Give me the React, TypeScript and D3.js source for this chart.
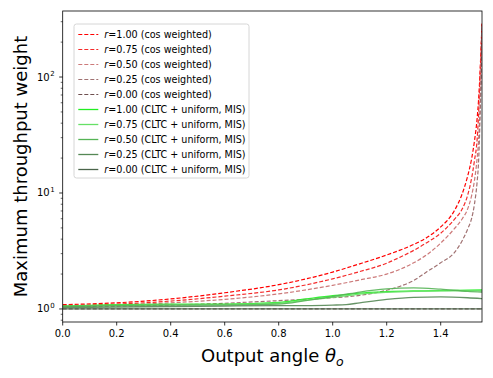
import * as d3 from 'd3'

const THETA=[0,0.2,0.4,0.6,0.8,1.0,1.1,1.2,1.25,1.3,1.35,1.4,1.45,1.48,1.5,1.515,1.525,1.535,1.54,1.545,1.55,1.553]
const COS_100=[1.09,1.13,1.22,1.38,1.62,2.08,2.45,2.92,3.22,3.6,4.15,5.1,7.0,9.9,14,20,28,44,62,100,190,290]
const COS_075=[1.07,1.10,1.17,1.29,1.46,1.82,2.1,2.48,2.8,3.2,3.75,4.5,5.9,7.3,9.6,13.6,19,29,46,92,180,285]
const COS_050=[1.06,1.08,1.13,1.21,1.35,1.6,1.78,2.0,2.2,2.5,2.95,3.7,4.9,6.0,7.3,9.6,12.8,20,28,50,130,280]
const COS_025=[1.05,1.06,1.08,1.12,1.18,1.25,1.31,1.45,1.57,1.76,2.1,2.5,3.05,3.9,4.9,6.1,8.0,12.5,18,38,110,275]
const COS_000=[1,1,1,1,1,1,1,1,1,1,1,1,1,1,1,1,1,1,1,1,1,1]

const G_THETA=[0,0.2,0.4,0.6,0.8,0.9,1.0,1.05,1.1,1.2,1.3,1.4,1.5,1.553]
const G_100=[1.06,1.09,1.10,1.10,1.14,1.22,1.30,1.33,1.37,1.41,1.43,1.44,1.45,1.46]
const G_075=[1.05,1.08,1.09,1.09,1.12,1.19,1.26,1.30,1.34,1.39,1.42,1.43,1.44,1.44]
const G_050=[1.05,1.07,1.08,1.08,1.10,1.18,1.28,1.34,1.40,1.49,1.52,1.48,1.42,1.40]
const G_025=[1.03,1.04,1.05,1.06,1.07,1.07,1.08,1.09,1.13,1.21,1.26,1.27,1.25,1.23]
const G_000=[1,1,1,1,1,1,1,1,1,1,1,1,1,1]

const R_LABELS=['1.00','0.75','0.50','0.25','0.00']
const X_TICKS=[0,0.2,0.4,0.6,0.8,1.0,1.2,1.4]
const Y_MAJOR=[1,10,100]

const series=[
  {r:R_LABELS[0],kind:'cos weighted',x:THETA,y:COS_100,color:'#ff0000',dash:true},
  {r:R_LABELS[1],kind:'cos weighted',x:THETA,y:COS_075,color:'#f52a2a',dash:true},
  {r:R_LABELS[2],kind:'cos weighted',x:THETA,y:COS_050,color:'#cc7a7a',dash:true},
  {r:R_LABELS[3],kind:'cos weighted',x:THETA,y:COS_025,color:'#a07272',dash:true},
  {r:R_LABELS[4],kind:'cos weighted',x:THETA,y:COS_000,color:'#6e5050',dash:true},
  {r:R_LABELS[0],kind:'CLTC + uniform, MIS',x:G_THETA,y:G_100,color:'#22ee22',dash:false},
  {r:R_LABELS[1],kind:'CLTC + uniform, MIS',x:G_THETA,y:G_075,color:'#66e066',dash:false},
  {r:R_LABELS[2],kind:'CLTC + uniform, MIS',x:G_THETA,y:G_050,color:'#55b455',dash:false},
  {r:R_LABELS[3],kind:'CLTC + uniform, MIS',x:G_THETA,y:G_025,color:'#558855',dash:false},
  {r:R_LABELS[4],kind:'CLTC + uniform, MIS',x:G_THETA,y:G_000,color:'#4a654a',dash:false},
]

export default function App() {
  const W=493, H=378
  const m={left:62.7,right:482,top:11,bottom:322}
  const x=d3.scaleLinear().domain([0,1.553]).range([m.left,m.right])
  const y=d3.scaleLog().domain([0.772,371]).range([m.bottom,m.top])
  const font='DejaVu Sans'
  const minor:number[]=[]
  ;[0.1,1,10,100].forEach(d=>{for(let k=2;k<10;k++){const v=d*k; if(v>0.772&&v<371) minor.push(v)}})
  const line=(s:any)=>d3.line<number>().x((_,i)=>x(s.x[i])).y(d=>y(d)).curve(d3.curveMonotoneX)(s.y)
  const lg={x:74,y:24,w:175,h:154}
  return (
    <svg width={W} height={H} style={{position:'absolute',left:0,top:0,background:'#fff'}} fontFamily={font}>
      <defs><clipPath id="clip"><rect x={m.left} y={m.top} width={m.right-m.left} height={m.bottom-m.top}/></clipPath></defs>
      <g clipPath="url(#clip)">
        {series.map((s,i)=>(
          <path key={i} d={line(s)||''} fill="none" stroke={s.color} strokeWidth={s.dash?1.2:1.3}
            strokeDasharray={s.dash?'4,2':undefined} strokeOpacity={s.dash?1:0.9}/>
        ))}
      </g>
      <rect x={m.left} y={m.top} width={m.right-m.left} height={m.bottom-m.top} fill="none" stroke="#000" strokeWidth={0.8}/>
      {X_TICKS.map(t=>(
        <g key={t} transform={`translate(${x(t)},${m.bottom})`}>
          <line y2={3.5} stroke="#000" strokeWidth={0.8}/>
          <text y={15} textAnchor="middle" fontSize={10}>{d3.format('.1f')(t)}</text>
        </g>
      ))}
      {Y_MAJOR.map(t=>(
        <g key={t} transform={`translate(${m.left},${y(t)})`}>
          <line x2={-3.5} stroke="#000" strokeWidth={0.8}/>
          <text x={-13} y={3.5} textAnchor="end" fontSize={10}>10</text>
          <text x={-12.5} y={-1} textAnchor="start" fontSize={7}>{Math.round(Math.log10(t))}</text>
        </g>
      ))}
      {minor.map(t=>(
        <line key={t} x1={m.left} x2={m.left-2} y1={y(t)} y2={y(t)} stroke="#000" strokeWidth={0.6}/>
      ))}
      <text x={(m.left+m.right)/2} y={362} textAnchor="middle" fontSize={18}>
        Output angle <tspan fontStyle="italic">θ</tspan><tspan fontStyle="italic" fontSize={12.5} dy={4}>o</tspan>
      </text>
      <text transform={`translate(27,${(m.top+m.bottom)/2}) rotate(-90)`} textAnchor="middle" fontSize={18}>Maximum throughput weight</text>
      <rect x={lg.x} y={lg.y} width={lg.w} height={lg.h} rx={2.5} fill="#fff" fillOpacity={0.8} stroke="#ccc" strokeWidth={0.8}/>
      {series.map((s,i)=>{
        const yy=Math.round(lg.y+9.5+i*15.1)+0.5
        return (
          <g key={'l'+i}>
            <line x1={78.3} x2={98.3} y1={yy} y2={yy} stroke={s.color} strokeWidth={s.dash?1.2:1.3} strokeDasharray={s.dash?'4,2':undefined}/>
            <text x={104.3} y={yy+3.3} fontSize={9.6}><tspan fontStyle="italic">r</tspan>={s.r} ({s.kind})</text>
          </g>
        )
      })}
    </svg>
  )
}
